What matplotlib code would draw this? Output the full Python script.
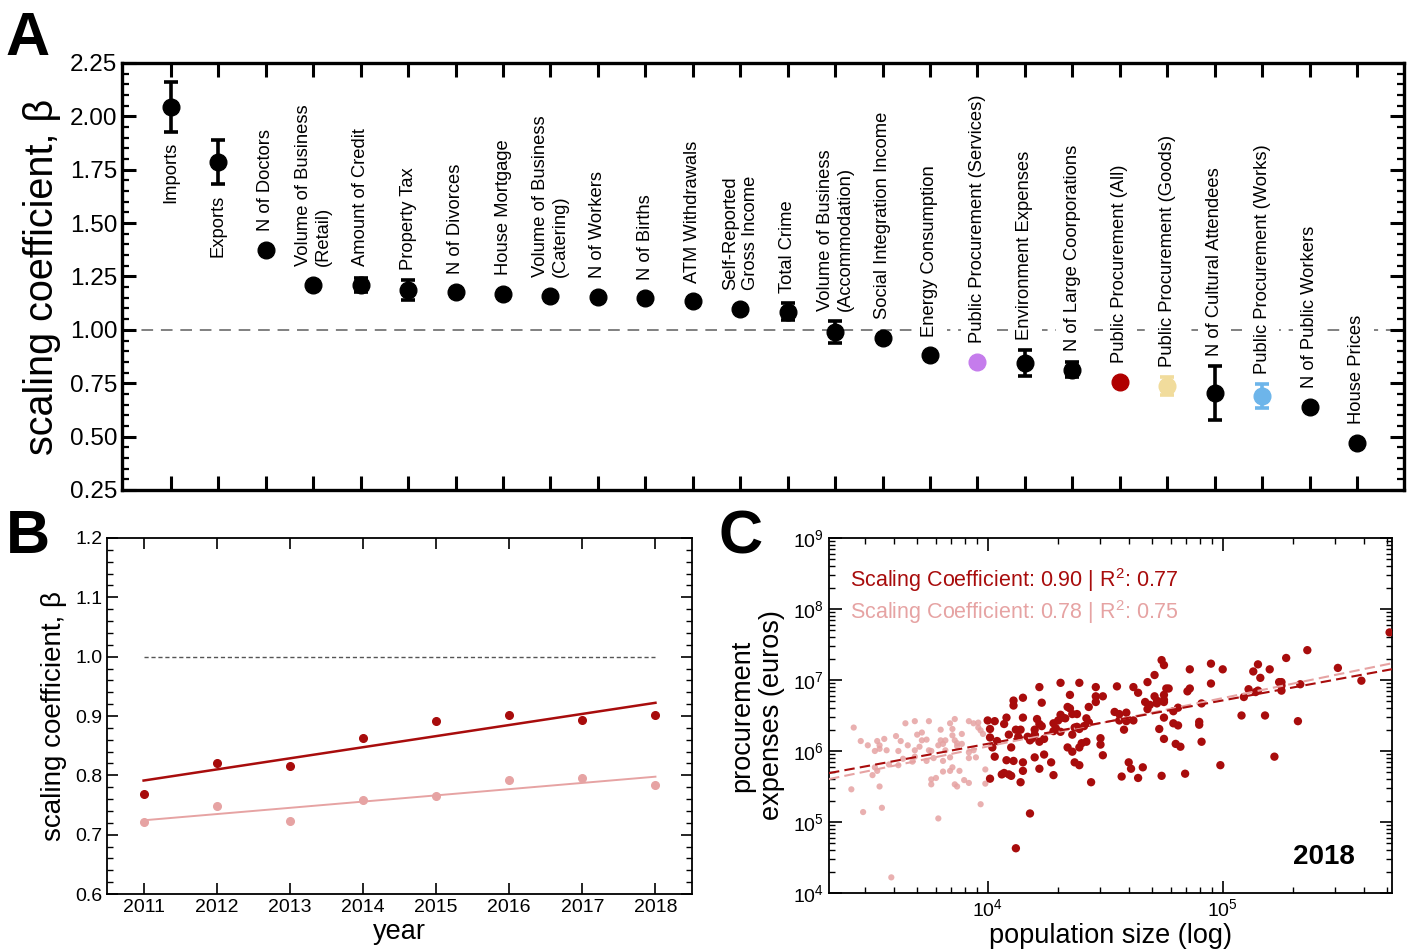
import numpy as np
import matplotlib
matplotlib.use('Agg')
import matplotlib.pyplot as plt
from matplotlib.ticker import MultipleLocator, LogLocator, NullFormatter

plt.rcParams['font.family'] = ['Liberation Sans', 'DejaVu Sans']
plt.rcParams['mathtext.fontset'] = 'custom'
plt.rcParams['mathtext.rm'] = 'Liberation Sans'
plt.rcParams['mathtext.it'] = 'Liberation Sans:italic'
plt.rcParams['mathtext.bf'] = 'Liberation Sans:bold'
plt.rcParams['mathtext.default'] = 'regular'

# ---------------- Panel A data ----------------
categories = [
    "Imports", "Exports", "N of Doctors", "Volume of Business\n(Retail)",
    "Amount of Credit", "Property Tax", "N of Divorces", "House Mortgage",
    "Volume of Business\n(Catering)", "N of Workers", "N of Births",
    "ATM Withdrawals", "Self-Reported\nGross Income", "Total Crime",
    "Volume of Business\n(Accommodation)", "Social Integration Income",
    "Energy Consumption", "Public Procurement (Services)",
    "Environment Expenses", "N of Large Coorporations",
    "Public Procurement (All)", "Public Procurement (Goods)",
    "N of Cultural Attendees", "Public Procurement (Works)",
    "N of Public Workers", "House Prices",
]
beta = [2.044, 1.786, 1.374, 1.210, 1.210, 1.187, 1.177, 1.168, 1.159, 1.154,
        1.149, 1.135, 1.098, 1.084, 0.990, 0.962, 0.882, 0.850, 0.845, 0.812,
        0.756, 0.737, 0.704, 0.690, 0.639, 0.470]
beta_err = [0.117, 0.105, 0.0, 0.0, 0.035, 0.048, 0.0, 0.0, 0.0, 0.0,
            0.0, 0.0, 0.0, 0.040, 0.052, 0.0, 0.0, 0.0, 0.062, 0.035,
            0.0, 0.040, 0.128, 0.058, 0.0, 0.0]
highlight = {
    "Public Procurement (Services)": "#c57cec",
    "Public Procurement (All)": "#b00000",
    "Public Procurement (Goods)": "#f1dc9c",
    "Public Procurement (Works)": "#6db5ea",
}
labels_below = ["Imports", "Exports"]

# ---------------- Panel B data ----------------
years = [2011, 2012, 2013, 2014, 2015, 2016, 2017, 2018]
beta_dark = [0.769, 0.820, 0.816, 0.863, 0.891, 0.901, 0.893, 0.901]
beta_light = [0.722, 0.748, 0.723, 0.758, 0.766, 0.792, 0.796, 0.783]

# ---------------- Panel C data (log10 values) ----------------
light_logpop = [3.43, 3.46, 3.49, 3.52, 3.53, 3.54, 3.54, 3.56, 3.57, 3.61, 3.62, 3.63,
                3.65, 3.66, 3.69, 3.70, 3.69, 3.71, 3.72, 3.72, 3.74, 3.75, 3.75, 3.76,
                3.80, 3.80, 3.79, 3.82, 3.81, 3.82, 3.84, 3.85, 3.86, 3.85, 3.86, 3.87,
                3.87, 3.89, 3.89, 3.92, 3.94, 3.96, 3.97, 3.98, 3.96, 3.92, 3.92, 3.94,
                3.95, 3.84, 3.81, 3.77, 3.74, 3.68, 3.64, 3.62, 3.58, 3.52, 3.53, 3.51,
                3.54, 3.42, 3.47, 3.55, 3.76, 3.76, 3.78, 3.81, 3.84, 3.86, 3.87, 3.88,
                3.90, 3.92, 3.79, 3.59, 3.97, 3.99, 3.99, 3.85, 3.69]
light_logexp = [6.33, 6.14, 6.08, 6.00, 6.14, 6.08, 6.03, 6.17, 6.01, 6.21, 6.00, 6.14,
                6.39, 6.08, 6.42, 6.23, 6.01, 6.06, 6.26, 6.15, 6.16, 6.42, 6.01, 6.00,
                6.30, 6.15, 6.08, 6.01, 6.10, 6.15, 6.39, 6.31, 6.45, 6.22, 6.15, 6.11,
                6.07, 6.10, 6.24, 6.42, 6.39, 6.33, 6.29, 6.24, 6.40, 5.98, 5.90, 6.01,
                5.91, 5.91, 5.86, 5.90, 5.86, 5.85, 5.89, 5.80, 5.81, 5.77, 5.72, 5.66,
                5.50, 5.46, 5.14, 5.20, 5.60, 5.53, 5.62, 5.71, 5.72, 5.53, 5.50, 5.72,
                5.59, 5.55, 5.05, 4.22, 5.25, 5.74, 5.54, 5.77, 5.92]
dark_logpop = [4.00, 4.03, 4.01, 4.01, 4.04, 4.02, 4.03, 4.01, 4.07, 4.08, 4.11, 4.11,
               4.15, 4.15, 4.09, 4.12, 4.14, 4.13, 4.10, 4.08, 4.11, 4.15, 4.06, 4.07,
               4.09, 4.10, 4.15, 4.14, 4.18, 4.12, 4.22, 4.23, 4.21, 4.22, 4.23, 4.17,
               4.18, 4.19, 4.20, 4.20, 4.22, 4.20, 4.22, 4.24, 4.24, 4.28, 4.27, 4.28,
               4.28, 4.30, 4.31, 4.32, 4.33, 4.29, 4.31, 4.31, 4.35, 4.34, 4.35, 4.36,
               4.38, 4.39, 4.37, 4.36, 4.38, 4.39, 4.41, 4.42, 4.43, 4.43, 4.43, 4.34,
               4.36, 4.37, 4.39, 4.39, 4.42, 4.40, 4.44, 4.46, 4.46, 4.46, 4.49, 4.48,
               4.48, 4.49, 4.55, 4.54, 4.56, 4.56, 4.59, 4.59, 4.58, 4.62, 4.62, 4.64,
               4.67, 4.68, 4.71, 4.68, 4.69, 4.72, 4.71, 4.72, 4.57, 4.60, 4.61, 4.64,
               4.66,
               4.74, 4.75, 4.73, 4.75, 4.75, 4.74, 4.75, 4.75, 4.75, 4.76, 4.77, 4.79,
               4.79, 4.81, 4.81, 4.80, 4.82, 4.86, 4.85, 4.86, 4.84, 4.90, 4.90, 4.91,
               4.91, 4.95, 4.95, 5.00, 4.99, 5.09, 5.08, 5.11, 5.13, 5.15, 5.16, 5.14,
               5.15, 5.20, 5.18, 5.22, 5.27, 5.24, 5.25, 5.25, 5.25, 5.33, 5.32, 5.36,
               5.49, 5.59, 5.71]
dark_logexp = [6.43, 6.42, 6.31, 6.19, 6.14, 6.05, 5.92, 5.61, 6.38, 6.47, 6.64, 6.71,
               6.75, 6.47, 6.23, 6.30, 6.30, 6.20, 6.05, 5.87, 5.86, 5.84, 5.67, 5.69,
               5.67, 5.65, 5.72, 5.56, 5.12, 4.63, 6.90, 6.68, 6.45, 6.38, 6.35, 6.20,
               6.15, 6.18, 6.23, 6.30, 6.13, 5.91, 5.75, 5.95, 6.17, 5.66, 5.84, 6.28,
               6.39, 6.43, 6.51, 6.47, 6.46, 6.32, 6.27, 6.96, 6.79, 6.62, 6.60, 6.52,
               6.52, 6.96, 6.33, 6.23, 6.34, 6.31, 6.35, 6.46, 6.40, 6.40, 6.62, 6.05,
               5.99, 5.84, 5.80, 6.05, 6.13, 6.11, 5.56, 6.90, 6.77, 6.69, 6.77, 6.18,
               6.09, 5.94, 6.91, 6.55, 6.52, 6.43, 6.54, 6.42, 6.30, 6.43, 6.90, 6.82,
               6.69, 6.97, 7.07, 6.59, 6.65, 6.67, 6.77, 6.71, 5.64, 5.84, 5.75, 5.62,
               5.77,
               7.28, 7.21, 6.31, 6.47, 6.17, 5.65, 6.79, 6.72, 6.69, 6.88, 6.88, 6.39,
               6.56, 6.61, 6.36, 6.10, 6.06, 7.15, 6.84, 6.88, 5.68, 6.41, 6.37, 6.67,
               6.13, 7.23, 6.95, 7.15, 5.80, 6.76, 6.50, 6.87, 7.12, 7.22, 7.03, 6.83,
               6.85, 7.15, 6.50, 5.92, 7.31, 6.97, 6.97, 6.92, 6.85, 6.94, 6.42, 7.42,
               7.17, 6.99, 7.67]
# fitted lines (slope, intercept in log10 space) as drawn in the figure
fit_dark = [0.611, 3.657]
fit_light = [0.681, 3.340]
text_dark = "Scaling Coefficient: 0.90 | R$^2$: 0.77"
text_light = "Scaling Coefficient: 0.78 | R$^2$: 0.75"

DARK = "#a80c0c"
LIGHT = "#e6a3a3"

fig = plt.figure(figsize=(14.14, 9.51), dpi=100)

# ================= Panel A =================
axA = fig.add_axes([0.0863, 0.4848, 0.9066, 0.4490])
n = len(categories)
xs = np.arange(n)
axA.set_xlim(-1.03, n - 0.01)
axA.set_ylim(0.25, 2.25)
axA.axhline(1.0, color="#808080", lw=1.4, dashes=(6, 4), zorder=1)
for i, (cat, b, e) in enumerate(zip(categories, beta, beta_err)):
    col = highlight.get(cat, "black")
    if e > 0:
        axA.errorbar(i, b, yerr=e, fmt="o", color=col, ms=12, elinewidth=2.6,
                     capsize=5, capthick=2.6, zorder=3)
    else:
        axA.plot(i, b, "o", color=col, ms=12, zorder=3)
axA.yaxis.set_major_locator(MultipleLocator(0.25))
axA.yaxis.set_minor_locator(MultipleLocator(0.05))
axA.yaxis.set_major_formatter(plt.FuncFormatter(lambda v, p: f"{v:.2f}"))
axA.set_xticks(xs)
axA.set_xticklabels([])
axA.tick_params(axis="both", which="major", direction="in", length=10, width=2.2,
                top=True, right=True, labelsize=17.5)
axA.tick_params(axis="y", which="minor", direction="in", length=5, width=1.6,
                left=True, right=True)
axA.tick_params(axis="x", which="minor", bottom=False, top=False)
for sp in axA.spines.values():
    sp.set_linewidth(2.4)
axA.set_ylabel("scaling coefficient, β", fontsize=28.5, labelpad=6)

fig.canvas.draw()
p0 = axA.transData.transform((0, 0))[1]
p1 = axA.transData.transform((0, 1))[1]
ppu = p1 - p0
radius_px = 8.5
for i, (cat, b, e) in enumerate(zip(categories, beta, beta_err)):
    ext = max(e * ppu, radius_px) + 10
    off = ext * 72.0 / fig.dpi
    if cat in labels_below:
        axA.annotate(cat, xy=(i, b), xytext=(0, -off), textcoords="offset points",
                     rotation=90, ha="center", va="top", fontsize=13.2,
                     multialignment="right", zorder=2)
    else:
        axA.annotate(cat, xy=(i, b), xytext=(0, off), textcoords="offset points",
                     rotation=90, ha="center", va="bottom", fontsize=13.2,
                     multialignment="left", zorder=2,
                     bbox=dict(boxstyle="square,pad=0.45", fc="white", ec="none"))

# ================= Panel B =================
axB = fig.add_axes([0.0757, 0.0599, 0.4137, 0.3744])
axB.set_xlim(2010.5, 2018.5)
axB.set_ylim(0.6, 1.2)
axB.plot([years[0], years[-1]], [1.0, 1.0], color="#555555", lw=1.0, dashes=(3, 2))
yrs = np.array(years, dtype=float)
for vals, col, lw in ((beta_light, LIGHT, 1.4), (beta_dark, DARK, 1.8)):
    coef = np.polyfit(yrs, vals, 1)
    axB.plot(yrs, np.polyval(coef, yrs), color=col, lw=lw, zorder=2)
    axB.plot(yrs, vals, "o", color=col, ms=5.5, zorder=3)
axB.set_xticks(years)
axB.yaxis.set_major_locator(MultipleLocator(0.1))
axB.yaxis.set_minor_locator(MultipleLocator(0.02))
axB.yaxis.set_major_formatter(plt.FuncFormatter(lambda v, p: f"{v:.1f}"))
axB.tick_params(axis="both", which="major", direction="in", length=8, width=1.2,
                top=True, right=True, labelsize=14)
axB.tick_params(axis="y", which="minor", direction="in", length=4, width=1.0,
                left=True, right=True)
for sp in axB.spines.values():
    sp.set_linewidth(1.3)
axB.set_xlabel("year", fontsize=19.5, labelpad=2)
axB.set_ylabel("scaling coefficient, β", fontsize=20, labelpad=6)

# ================= Panel C =================
axC = fig.add_axes([0.5863, 0.0610, 0.3981, 0.3733])
axC.set_xscale("log")
axC.set_yscale("log")
xlo, xhi = 10 ** 3.325, 10 ** 5.72
axC.set_xlim(xlo, xhi)
axC.set_ylim(1e4, 1e9)
axC.scatter(10 ** np.array(light_logpop), 10 ** np.array(light_logexp), s=20,
            color=LIGHT, alpha=0.85, edgecolors="none", zorder=2)
axC.scatter(10 ** np.array(dark_logpop), 10 ** np.array(dark_logexp), s=36,
            color=DARK, edgecolors="none", zorder=3)
lx = np.linspace(np.log10(xlo), np.log10(xhi), 50)
axC.plot(10 ** lx, 10 ** (fit_light[0] * lx + fit_light[1]), color=LIGHT, lw=1.5,
         dashes=(5, 2.5), zorder=4)
axC.plot(10 ** lx, 10 ** (fit_dark[0] * lx + fit_dark[1]), color=DARK, lw=1.5,
         dashes=(5, 2.5), zorder=4)
axC.xaxis.set_major_locator(LogLocator(base=10, numticks=10))
axC.xaxis.set_minor_locator(LogLocator(base=10, subs=np.arange(2, 10), numticks=20))
axC.xaxis.set_minor_formatter(NullFormatter())
axC.yaxis.set_major_locator(LogLocator(base=10, numticks=10))
axC.yaxis.set_minor_locator(LogLocator(base=10, subs=np.arange(2, 10), numticks=20))
axC.yaxis.set_minor_formatter(NullFormatter())
axC.tick_params(axis="both", which="major", direction="in", length=9, width=1.2,
                top=True, right=True, labelsize=14)
axC.tick_params(axis="both", which="minor", direction="in", length=4.5, width=1.0,
                top=True, right=True)
for sp in axC.spines.values():
    sp.set_linewidth(1.3)
axC.set_xlabel("population size (log)", fontsize=19.5, labelpad=2)
axC.set_ylabel("procurement\nexpenses (euros)", fontsize=19.5, labelpad=6)
axC.text(0.038, 0.882, text_dark, transform=axC.transAxes, color=DARK,
         fontsize=15.5, va="center", ha="left")
axC.text(0.038, 0.792, text_light, transform=axC.transAxes, color=LIGHT,
         fontsize=15.5, va="center", ha="left")
axC.text(0.935, 0.10, "2018", transform=axC.transAxes, fontsize=20,
         fontweight="bold", ha="right", va="center")

# panel letters
fig.text(0.004, 0.958, "A", fontsize=44, fontweight="bold", va="center", ha="left")
fig.text(0.004, 0.435, "B", fontsize=44, fontweight="bold", va="center", ha="left")
fig.text(0.508, 0.434, "C", fontsize=44, fontweight="bold", va="center", ha="left")

fig.savefig("out.png", dpi=100)
